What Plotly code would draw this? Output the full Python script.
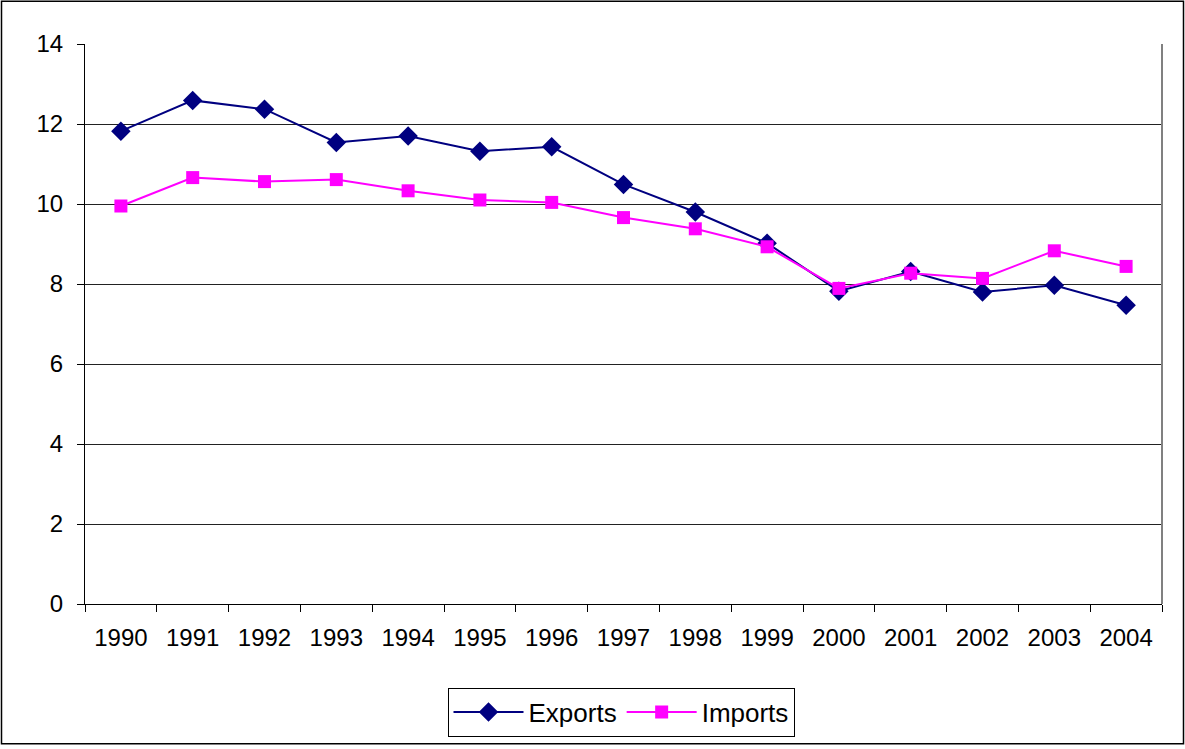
import plotly.graph_objects as go

years = ["1990", "1991", "1992", "1993", "1994", "1995", "1996", "1997",
         "1998", "1999", "2000", "2001", "2002", "2003", "2004"]
exports = [11.82, 12.59, 12.37, 11.54, 11.70, 11.32, 11.43, 10.49,
           9.80, 9.02, 7.82, 8.31, 7.80, 7.97, 7.47]
imports = [9.95, 10.66, 10.56, 10.61, 10.33, 10.10, 10.04, 9.66,
           9.38, 8.93, 7.89, 8.27, 8.14, 8.83, 8.44]
y_ticks = [0, 2, 4, 6, 8, 10, 12, 14]

FONT = "Liberation Sans, Arial, sans-serif"

fig = go.Figure()
fig.add_trace(go.Scatter(
    x=years, y=exports, name="Exports", mode="lines+markers",
    line=dict(color="#000080", width=2),
    marker=dict(symbol="diamond", size=15, color="#000080"),
))
fig.add_trace(go.Scatter(
    x=years, y=imports, name="Imports", mode="lines+markers",
    line=dict(color="#FF00FF", width=2),
    marker=dict(symbol="square", size=13, color="#FF00FF"),
))

W, H = 1185, 749
L, R, T, B = 85, 23, 44, 142
pw, ph = W - L - R, H - T - B

def px_x(p):
    return (p - L) / pw

def px_y(p):
    return (H - B - p) / ph

fig.update_layout(
    width=W, height=H,
    margin=dict(l=L, r=R, t=T, b=B, pad=0),
    paper_bgcolor="white", plot_bgcolor="white",
    font=dict(family=FONT, size=24, color="black"),
    showlegend=True,
    legend=dict(
        orientation="h", x=px_x(621), xanchor="center",
        y=px_y(691), yanchor="top",
        bordercolor="black", borderwidth=1,
        font=dict(size=26), itemwidth=70,
    ),
    xaxis=dict(
        type="category", range=[-0.5, 14.5],
        showline=True, linecolor="black", linewidth=1,
        ticks="outside", tickson="boundaries", ticklen=7, tickcolor="black",
        showgrid=False, zeroline=False, fixedrange=True,
        tickfont=dict(size=24), ticklabelstandoff=12,
    ),
    yaxis=dict(
        range=[0, 14], tickvals=y_ticks,
        showline=True, linecolor="black", linewidth=1,
        ticks="outside", ticklen=7, tickcolor="black",
        showgrid=True, gridcolor="#222222", gridwidth=1,
        zeroline=False, fixedrange=True,
        tickfont=dict(size=24), ticklabelstandoff=9,
    ),
    shapes=[
        # right border of plot area
        dict(type="line", xref="paper", yref="paper", x0=1, x1=1, y0=0, y1=1,
             line=dict(color="#808080", width=2)),
        # outer chart frame
        dict(type="rect", xref="paper", yref="paper",
             x0=px_x(1.5), x1=px_x(1183.5), y0=px_y(747.5), y1=px_y(1),
             line=dict(color="black", width=1.5)),
    ],
)

fig.write_html("out.html", config={"displayModeBar": False})

# remove the default page margin so the figure sits at the window origin
with open("out.html", "r", encoding="utf-8") as f:
    html = f.read()
html = html.replace("<head>", "<head><style>html,body{margin:0;padding:0;overflow:hidden;}</style>", 1)
with open("out.html", "w", encoding="utf-8") as f:
    f.write(html)
